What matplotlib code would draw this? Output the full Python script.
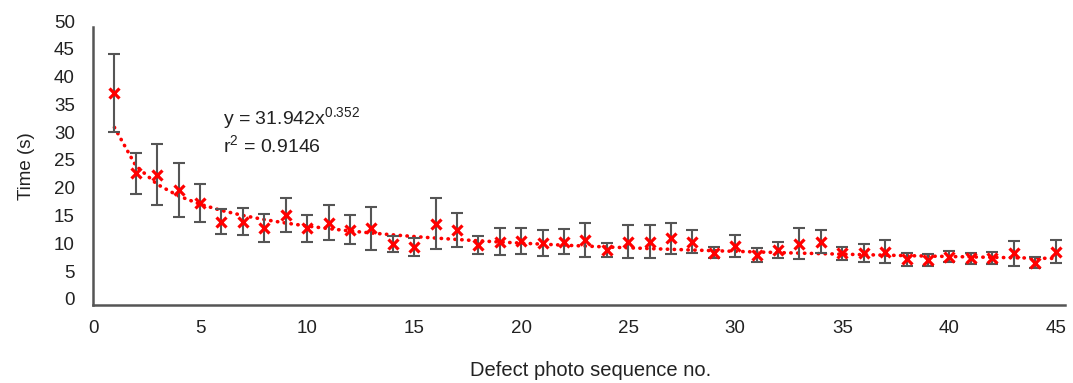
import numpy as np
import matplotlib.pyplot as plt
from matplotlib.transforms import ScaledTranslation

plt.rcParams['font.family'] = ['Liberation Sans', 'DejaVu Sans']

# photo sequence numbers and mean times (s)
seq = list(range(1, 46))
mean_t = [38.1, 23.7, 23.4, 20.7, 18.3, 15.0, 15.0, 13.8, 16.2, 13.8,
          14.8, 13.5, 13.8, 11.0, 10.4, 14.6, 13.5, 10.8, 11.4, 11.5,
          11.1, 11.4, 11.7, 9.9, 11.4, 11.4, 12.0, 11.4, 9.4, 10.6,
          9.0, 9.9, 11.0, 11.4, 9.3, 9.3, 9.6, 8.2, 8.1, 8.7,
          8.4, 8.4, 9.3, 7.6, 9.6]
err_t = [7.0, 3.7, 5.5, 4.8, 3.4, 2.2, 2.5, 2.5, 3.0, 2.4,
         3.2, 2.6, 3.9, 1.4, 1.6, 4.6, 3.0, 1.6, 2.4, 2.3,
         2.3, 2.3, 3.0, 1.3, 3.0, 3.0, 2.8, 2.0, 1.0, 1.9,
         1.3, 1.5, 2.8, 2.1, 1.2, 1.6, 2.1, 1.2, 1.1, 1.0,
         1.0, 1.1, 2.2, 1.0, 2.1]

# power trendline y = a * x^b
fit_a = 31.942
fit_b = -0.352

fig = plt.figure(figsize=(10.73, 3.83), dpi=100)
ax = fig.add_axes([0.0867, 0.2037, 0.9058, 0.7258])

xs = np.array(seq, dtype=float)
ax.plot(xs, fit_a * xs ** fit_b, color="red", lw=2.6,
        linestyle=(0, (0.1, 1.8)), dash_capstyle="round", zorder=2)

ax.errorbar(seq, mean_t, yerr=err_t, fmt="none", ecolor="#555555",
            elinewidth=1.5, capsize=4.5, capthick=1.5, zorder=3)
ax.plot(seq, mean_t, linestyle="none", marker="x", color="red",
        markersize=7, markeredgewidth=2.3, zorder=4)

ax.text(0.134, 0.647, r"y = 31.942x$^{\mathregular{0.352}}$", transform=ax.transAxes,
        fontsize=14, va="baseline", ha="left", color="#222222")
ax.text(0.134, 0.547, r"r$^{\mathregular{2}}$ = 0.9146", transform=ax.transAxes,
        fontsize=14, va="baseline", ha="left", color="#222222")

ax.set_xlim(0, 45.4)
ax.set_ylim(0, 50)
ax.set_xticks(range(0, 46, 5))
ax.set_yticks(range(0, 51, 5))
ax.tick_params(length=0, labelsize=13.5, colors="#222222")
ax.tick_params(axis="y", pad=13)
ax.tick_params(axis="x", pad=11)

# y tick labels sit a little above their grid value in the original
for lab in ax.get_yticklabels():
    lab.set_transform(lab.get_transform() + ScaledTranslation(0, 0.06, fig.dpi_scale_trans))

for s in ["top", "right"]:
    ax.spines[s].set_visible(False)
for s in ["left", "bottom"]:
    ax.spines[s].set_color("#555555")
    ax.spines[s].set_linewidth(1.8)

ax.set_ylabel("Time (s)", fontsize=13.5, labelpad=14, color="#222222")
ax.set_xlabel("Defect photo sequence no.", fontsize=14.5, labelpad=14, color="#222222")
ax.xaxis.set_label_coords(0.512, -0.2)

fig.savefig("out.png", dpi=100)
